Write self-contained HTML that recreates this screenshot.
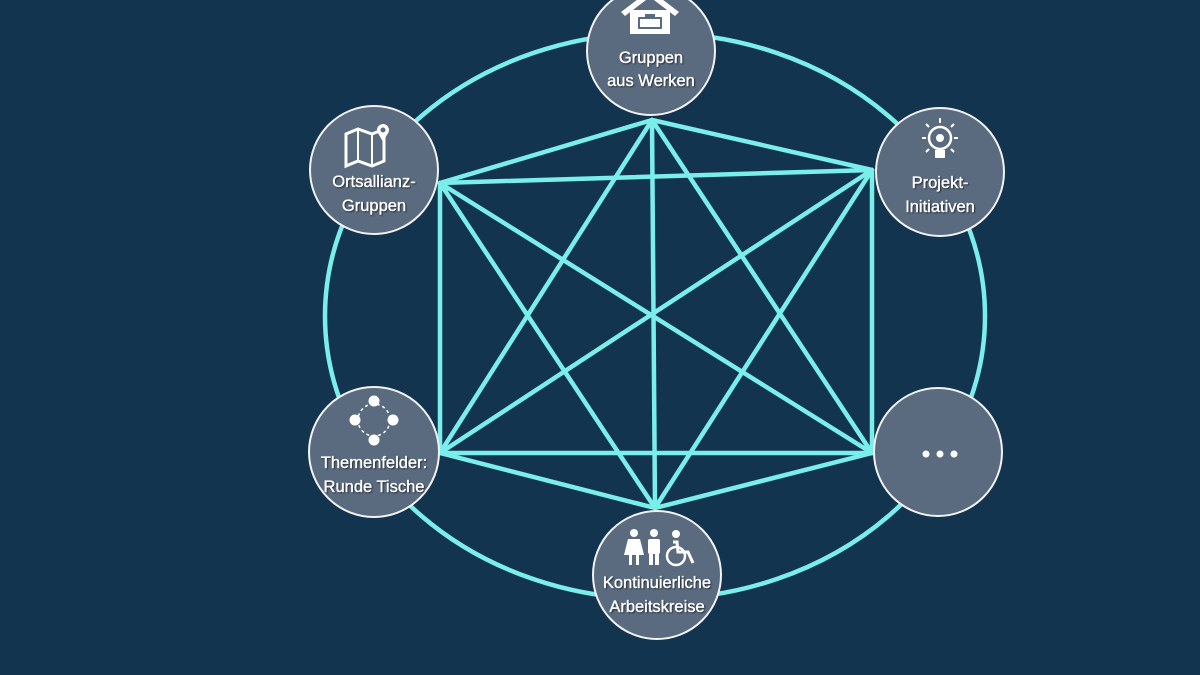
<!DOCTYPE html>
<html><head><meta charset="utf-8"><style>
html,body{margin:0;padding:0;background:#13344f;}
svg{display:block}
text{font-family:"Liberation Sans",sans-serif;font-size:16.5px;fill:#fff;text-anchor:middle;stroke:#fff;stroke-width:0.3px;}
</style></head><body>
<svg width="1200" height="675" viewBox="0 0 1200 675">
<defs><filter id="sh"><feDropShadow dx="1" dy="1" stdDeviation="0.8" flood-color="#000" flood-opacity="0.6"/></filter></defs>
<rect width="1200" height="675" fill="#13344f"/>
<ellipse cx="655" cy="316" rx="330" ry="283" fill="none" stroke="#7aeeea" stroke-width="4.5"/>
<g stroke="#7aeeea" stroke-width="4.5" stroke-linecap="round">
<line x1="652" y1="120" x2="440" y2="183"/>
<line x1="652" y1="120" x2="872" y2="170"/>
<line x1="652" y1="120" x2="440" y2="453"/>
<line x1="652" y1="120" x2="872" y2="453"/>
<line x1="652" y1="120" x2="655" y2="508"/>
<line x1="440" y1="183" x2="872" y2="170"/>
<line x1="440" y1="183" x2="440" y2="453"/>
<line x1="440" y1="183" x2="872" y2="453"/>
<line x1="440" y1="183" x2="655" y2="508"/>
<line x1="872" y1="170" x2="440" y2="453"/>
<line x1="872" y1="170" x2="872" y2="453"/>
<line x1="872" y1="170" x2="655" y2="508"/>
<line x1="440" y1="453" x2="872" y2="453"/>
<line x1="440" y1="453" x2="655" y2="508"/>
<line x1="872" y1="453" x2="655" y2="508"/>
</g>
<g fill="#5a6b7f" stroke="#f2f2f2" stroke-width="2">
<circle cx="651" cy="51" r="64"/>
<circle cx="374" cy="170" r="64"/>
<circle cx="940" cy="172" r="64"/>
<circle cx="374" cy="452" r="65"/>
<circle cx="938" cy="452" r="64"/>
<circle cx="657" cy="575" r="64"/>
</g>
<g filter="url(#sh)">
<text x="651" y="63">Gruppen</text><text x="651" y="86">aus Werken</text>
<text x="374" y="187">Ortsallianz-</text><text x="374" y="211">Gruppen</text>
<text x="940" y="188">Projekt-</text><text x="940" y="212">Initiativen</text>
<text x="374" y="468">Themenfelder:</text><text x="374" y="492">Runde Tische</text>
<text x="657" y="588">Kontinuierliche</text><text x="657" y="612">Arbeitskreise</text>
</g>
<g fill="#fff">
<circle cx="926" cy="454" r="3.5"/><circle cx="940" cy="454" r="3.5"/><circle cx="954" cy="454" r="3.5"/>
<polygon points="621,12 650,-10 679,12 675,16 650,-3 625,16"/>
<rect x="630" y="10" width="40" height="24"/>
<rect x="638" y="17" width="24" height="12" rx="1" fill="#5a6b7f"/>
<rect x="640" y="19" width="20" height="8" fill="#fff"/>
<rect x="645" y="14" width="10" height="3" fill="#5a6b7f"/>
<path d="M346,134 l12,-5 l14,5 l12,-5 l0,32 l-12,5 l-14,-5 l-12,5 z" fill="none" stroke="#fff" stroke-width="3"/>
<line x1="358" y1="130" x2="358" y2="161" stroke="#fff" stroke-width="2"/>
<line x1="372" y1="134" x2="372" y2="165" stroke="#fff" stroke-width="2"/>
<circle cx="383" cy="130" r="6"/><polygon points="378,133 388,133 383,142"/>
<circle cx="383" cy="130" r="2.5" fill="#5a6b7f"/>
<circle cx="940" cy="138" r="11" fill="none" stroke="#fff" stroke-width="2.5"/>
<circle cx="940" cy="138" r="4"/>
<rect x="935" y="150" width="10" height="8"/>
<g stroke="#fff" stroke-width="2"><line x1="940" y1="118" x2="940" y2="123"/><line x1="922" y1="138" x2="926" y2="138"/><line x1="954" y1="138" x2="958" y2="138"/><line x1="926" y1="124" x2="929" y2="127"/><line x1="954" y1="124" x2="951" y2="127"/><line x1="926" y1="152" x2="929" y2="149"/><line x1="954" y1="152" x2="951" y2="149"/></g>
<circle cx="374" cy="420" r="16" fill="none" stroke="#fff" stroke-width="1.5" stroke-dasharray="3,3"/>
<circle cx="374" cy="401" r="5.5"/><circle cx="355" cy="420" r="5.5"/><circle cx="393" cy="420" r="5.5"/><circle cx="374" cy="440" r="5.5"/>
<circle cx="634" cy="533" r="4"/><polygon points="628,539 640,539 644,555 624,555"/><rect x="629" y="555" width="3" height="10"/><rect x="636" y="555" width="3" height="10"/>
<circle cx="654" cy="533" r="4"/><rect x="648" y="539" width="12" height="15" rx="2"/><rect x="649" y="554" width="4" height="11"/><rect x="655" y="554" width="4" height="11"/>
<circle cx="676" cy="534" r="4"/>
<path d="M673,542 l4,0 l1,10 l10,0 l5,11" fill="none" stroke="#fff" stroke-width="3"/>
<circle cx="676" cy="556" r="9" fill="none" stroke="#fff" stroke-width="2.5"/>
</g>
</svg>
</body></html>
